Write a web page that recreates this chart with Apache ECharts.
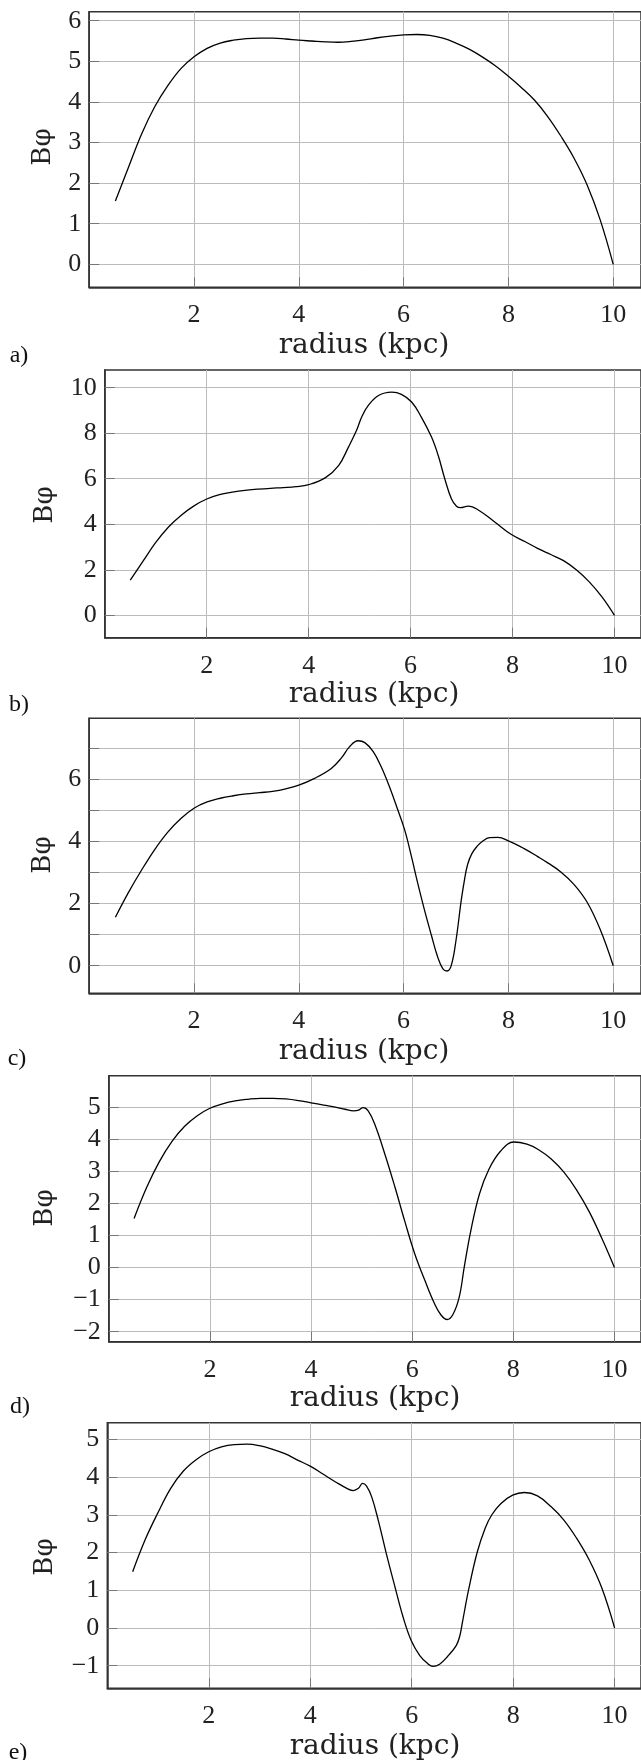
<!DOCTYPE html>
<html>
<head>
<meta charset="utf-8">
<script src="https://cdn.jsdelivr.net/npm/echarts@6/dist/echarts.min.js"></script>
<style>
html,body{margin:0;padding:0;background:#fff;}
#chart{width:641px;height:1760px;}
</style>
</head>
<body>
<div id="chart"></div>
<script>
// ---- data ----
const xTickValues = [2, 4, 6, 8, 10];

const radiusA = [0.5,0.75,1.0,1.25,1.5,1.75,2.0,2.25,2.5,2.75,3.0,3.25,3.5,3.75,4.0,4.25,4.5,4.75,5.0,5.25,5.5,5.75,6.0,6.25,6.5,6.75,7.0,7.25,7.5,7.75,8.0,8.25,8.5,8.75,9.0,9.25,9.5,9.75,10];
const bphiA   = [1.56,2.39,3.21,3.88,4.40,4.82,5.11,5.32,5.45,5.52,5.56,5.57,5.57,5.55,5.52,5.50,5.48,5.47,5.49,5.53,5.58,5.62,5.65,5.66,5.64,5.57,5.45,5.30,5.11,4.89,4.63,4.35,4.04,3.64,3.16,2.62,1.96,1.10,0];
const yTicksA = [0,1,2,3,4,5,6];
const yLabelsA = [0,1,2,3,4,5,6];

const radiusB = [0.5,0.75,1.0,1.25,1.5,1.75,2.0,2.25,2.5,2.75,3.0,3.25,3.5,3.75,4.0,4.33,4.59,4.78,4.94,5.04,5.17,5.37,5.63,5.82,6.02,6.21,6.41,6.54,6.67,6.8,6.9,6.98,7.13,7.32,7.65,7.97,8.25,8.5,8.75,9.0,9.25,9.5,9.75,10];
const bphiB   = [1.55,2.38,3.2,3.88,4.40,4.81,5.11,5.3,5.41,5.49,5.54,5.58,5.61,5.65,5.74,6.05,6.59,7.39,8.13,8.71,9.22,9.66,9.81,9.71,9.37,8.71,7.83,7.03,6.0,5.12,4.79,4.73,4.80,4.64,4.10,3.56,3.23,2.93,2.67,2.40,2.00,1.48,0.82,0];
const yTicksB = [0,2,4,6,8,10];
const yLabelsB = [0,2,4,6,8,10];

const radiusC = [0.5,0.75,1.0,1.25,1.5,1.75,2.0,2.25,2.5,2.75,3.0,3.25,3.5,3.75,4.0,4.3,4.62,4.81,4.97,5.13,5.26,5.42,5.57,5.73,5.89,6.02,6.15,6.27,6.4,6.53,6.65,6.75,6.83,6.91,7.0,7.1,7.16,7.22,7.3,7.4,7.5,7.64,7.8,8.0,8.3,8.56,8.75,9.0,9.25,9.5,9.75,10];
const bphiC   = [1.56,2.36,3.08,3.74,4.3,4.74,5.07,5.27,5.39,5.47,5.53,5.57,5.61,5.69,5.81,6.03,6.35,6.68,7.05,7.24,7.18,6.89,6.41,5.76,5.01,4.37,3.51,2.65,1.78,0.98,0.28,-0.10,-0.17,0.01,0.82,2.11,2.75,3.25,3.60,3.84,4.00,4.12,4.13,4.02,3.77,3.51,3.31,3.02,2.62,2.05,1.17,0];
const yTicksC = [0,1,2,3,4,5,6,7];
const yLabelsC = [0,2,4,6];

const radiusD = [0.5,0.75,1.0,1.25,1.5,1.75,2.0,2.25,2.5,2.75,3.0,3.25,3.5,3.75,4.0,4.25,4.5,4.67,4.84,4.94,5.03,5.13,5.26,5.46,5.66,5.85,6.05,6.25,6.44,6.57,6.69,6.8,6.93,7.03,7.16,7.33,7.52,7.75,8.01,8.27,8.5,8.75,9.0,9.25,9.5,9.75,10];
const bphiD   = [1.53,2.5,3.3,3.93,4.4,4.73,4.96,5.1,5.19,5.24,5.27,5.27,5.25,5.2,5.13,5.06,4.99,4.93,4.88,4.90,4.98,4.88,4.46,3.53,2.50,1.46,0.43,-0.40,-1.12,-1.48,-1.62,-1.48,-0.92,0.02,1.15,2.29,3.07,3.63,3.91,3.84,3.67,3.38,2.97,2.42,1.74,0.91,0];
const yTicksD = [-2,-1,0,1,2,3,4,5];
const yLabelsD = [-2,-1,0,1,2,3,4,5];

const radiusE = [0.5,0.75,1.0,1.25,1.5,1.75,2.0,2.25,2.5,2.75,3.0,3.25,3.5,3.75,4.0,4.25,4.5,4.75,4.85,4.95,5.03,5.11,5.21,5.34,5.5,5.67,5.83,5.99,6.16,6.32,6.42,6.55,6.71,6.88,6.95,7.0,7.12,7.29,7.45,7.58,7.76,7.99,8.22,8.48,8.75,9.0,9.25,9.5,9.75,10];
const bphiE   = [1.49,2.35,3.06,3.70,4.16,4.46,4.67,4.8,4.86,4.87,4.83,4.74,4.62,4.45,4.29,4.08,3.87,3.68,3.64,3.70,3.83,3.76,3.48,2.86,1.97,1.09,0.29,-0.33,-0.73,-0.95,-1.02,-0.96,-0.75,-0.46,-0.20,0.15,1.0,2.0,2.65,3.0,3.30,3.52,3.59,3.50,3.21,2.86,2.38,1.8,1.05,0];
const yTicksE = [-1,0,1,2,3,4,5];
const yLabelsE = [-1,0,1,2,3,4,5];

const panelLetters = ['a)', 'b)', 'c)', 'd)', 'e)'];
const xTitle = 'radius (kpc)';
const yTitle = 'Bφ';

// ---- layout ----
const panels = [
  {radius: radiusA, bphi: bphiA, yTicks: yTicksA, yLabels: yLabelsA,
   left: 89.2, top: 11.7, height: 275.6, xMax: 10.53, yMin: -0.566, yMax: 6.222,
   ytx: 43, yty: 147, xtx: 364, xty: 346, lx: 19, ly: 356},
  {radius: radiusB, bphi: bphiB, yTicks: yTicksB, yLabels: yLabelsB,
   left: 104.8, top: 370, height: 267.7, xMax: 10.52, yMin: -0.984, yMax: 10.778,
   ytx: 45, yty: 505, xtx: 374, xty: 695, lx: 19, ly: 705},
  {radius: radiusC, bphi: bphiC, yTicks: yTicksC, yLabels: yLabelsC,
   left: 89.2, top: 718.3, height: 275, xMax: 10.53, yMin: -0.888, yMax: 7.963,
   ytx: 43, yty: 855, xtx: 364, xty: 1052, lx: 17, ly: 1059},
  {radius: radiusD, bphi: bphiD, yTicks: yTicksD, yLabels: yLabelsD,
   left: 108.8, top: 1075.7, height: 266, xMax: 10.525, yMin: -2.311, yMax: 5.975,
   ytx: 45, yty: 1208, xtx: 375, xty: 1399, lx: 20, ly: 1407},
  {radius: radiusE, bphi: bphiE, yTicks: yTicksE, yLabels: yLabelsE,
   left: 107.3, top: 1422.7, height: 265.6, xMax: 10.52, yMin: -1.599, yMax: 5.44,
   ytx: 45, yty: 1557, xtx: 375, xty: 1747, lx: 18, ly: 1753}
];

const tickFont = 'Liberation Serif';
const fmt = v => (v < 0 ? '\u2212' + Math.abs(v) : String(v));

const grid = [], xAxis = [], yAxis = [], series = [], graphic = [];
panels.forEach((p, i) => {
  grid.push({left: p.left, top: p.top, height: p.height, right: -3,
    show: true, borderColor: '#333', borderWidth: 1.5, backgroundColor: 'transparent'});
  xAxis.push({
    type: 'value', gridIndex: i, min: 0, max: p.xMax,
    axisLine: {show: true, onZero: false, lineStyle: {color: '#333', width: 1.5}},
    axisTick: {show: true, inside: true, length: 10, customValues: xTickValues,
      lineStyle: {color: '#777', width: 1}},
    axisLabel: {show: true, customValues: xTickValues, margin: 15,
      fontFamily: tickFont, fontSize: 26, color: '#222', formatter: fmt},
    splitLine: {show: true, lineStyle: {color: '#bcbcbc', width: 1}}
  });
  yAxis.push({
    type: 'value', gridIndex: i, min: p.yMin, max: p.yMax,
    axisLine: {show: true, onZero: false, lineStyle: {color: '#333', width: 1.5}},
    axisTick: {show: true, inside: true, length: 10, customValues: p.yTicks,
      lineStyle: {color: '#777', width: 1}},
    axisLabel: {show: true, customValues: p.yLabels, margin: 8,
      fontFamily: tickFont, fontSize: 26, color: '#222', formatter: fmt},
    splitLine: {show: true, lineStyle: {color: '#bcbcbc', width: 1}}
  });
  series.push({
    type: 'line', xAxisIndex: i, yAxisIndex: i,
    data: p.radius.map((r, k) => [r, p.bphi[k]]),
    symbol: 'none', smooth: 0.4, clip: true,
    lineStyle: {color: '#000', width: 1.3}
  });
  graphic.push({type: 'text', x: p.xtx, y: p.xty,
    style: {text: xTitle, align: 'center', verticalAlign: 'middle',
      font: '28px "DejaVu Serif"', fill: '#222'}});
  graphic.push({type: 'text', x: p.ytx, y: p.yty, rotation: Math.PI / 2,
    style: {text: yTitle, align: 'center', verticalAlign: 'middle',
      font: '26px "DejaVu Serif"', fill: '#222'}});
  graphic.push({type: 'text', x: p.lx, y: p.ly,
    style: {text: panelLetters[i], align: 'center', verticalAlign: 'middle',
      font: '24px "Liberation Serif"', fill: '#111'}});
});

const chart = echarts.init(document.getElementById('chart'), null, {renderer: 'canvas'});
chart.setOption({
  animation: false,
  backgroundColor: '#fff',
  grid, xAxis, yAxis, series, graphic
});
</script>
</body>
</html>
